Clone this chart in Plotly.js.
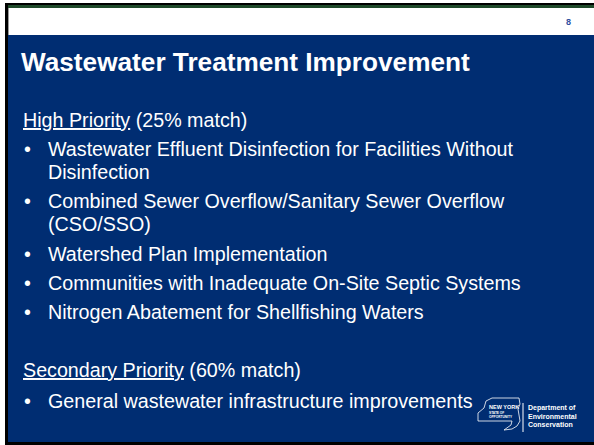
<!DOCTYPE html>
<html>
<head>
<meta charset="utf-8">
<script src="https://cdn.plot.ly/plotly-3.0.1.min.js"></script>
<style>
  html, body { margin: 0; padding: 0; background: #ffffff; }
  #plot { width: 594px; height: 445px; }
</style>
</head>
<body>
<div id="plot"></div>
<script>
// slide text
const pageNumber = '8';
const slideTitle = 'Wastewater Treatment Improvement';
const highHeading = 'High Priority';
const highNote = '(25% match)';
const highItems = [
    'Wastewater Effluent Disinfection for Facilities Without<br>Disinfection',
    'Combined Sewer Overflow/Sanitary Sewer Overflow<br>(CSO/SSO)',
    'Watershed Plan Implementation',
    'Communities with Inadequate On-Site Septic Systems',
    'Nitrogen Abatement for Shellfishing Waters'
];
const secondHeading = 'Secondary Priority';
const secondNote = '(60% match)';
const secondItems = [
    'General wastewater infrastructure improvements'
];
const logoLeft = ['NEW YORK', 'STATE OF', 'OPPORTUNITY'];
const logoRight = ['Department of', 'Environmental', 'Conservation'];

const navy = '#002d72';
const font = 'Liberation Sans, Arial, sans-serif';
const bodySize = 19.7;

// layout positions (px, y downward): first line of each bullet
const highItemY = [149, 201, 254, 283, 312];
const secondItemY = [401];
const lineGap = 23;

const annotations = [];
function txt(x, y, text, size, opts) {
    annotations.push(Object.assign({
        x: x, y: y, xref: 'x', yref: 'y', text: text, showarrow: false,
        xanchor: 'left', yanchor: 'middle', align: 'left',
        font: { family: font, size: size, color: '#ffffff' }
    }, opts || {}));
}

function bullet(y0, t) {
    txt(22, y0, '•', bodySize);
    t.split('<br>').forEach(function(line, k) {
        txt(46, y0 + k * lineGap, line, bodySize);
    });
}

txt(568, 22, '<b>' + pageNumber + '</b>', 9, { xanchor: 'center', font: { family: font, size: 9, color: '#2f4f9f' } });
txt(19, 62, '<b>' + slideTitle + '</b>', 26.2);
txt(21, 120, '<u>' + highHeading + '</u> ' + highNote, bodySize);
highItems.forEach(function(t, i) { bullet(highItemY[i], t); });
txt(21, 370, '<u>' + secondHeading + '</u> ' + secondNote, bodySize);
secondItems.forEach(function(t, i) { bullet(secondItemY[i], t); });

// logo text
logoLeft.forEach(function(t, i) {
    txt(487, [407, 412.5, 416.5][i], '<b>' + t + '</b>', i === 0 ? 5.5 : 3.2);
});
logoRight.forEach(function(t, i) {
    txt(526, 408 + i * 8, '<b>' + t + '</b>', 7);
});

const shapes = [
    { type: 'rect', x0: 8, x1: 594, y0: 35, y1: 442, fillcolor: navy, line: { width: 0 }, layer: 'below' },
    { type: 'rect', x0: 5, x1: 594, y0: 3, y1: 5, fillcolor: '#000000', line: { width: 0 } },
    { type: 'rect', x0: 8, x1: 594, y0: 5, y1: 8, fillcolor: '#1f4a2a', line: { width: 0 } },
    { type: 'rect', x0: 5, x1: 8, y0: 3, y1: 445, fillcolor: '#000000', line: { width: 0 } },
    { type: 'rect', x0: 8, x1: 9, y0: 8, y1: 35, fillcolor: '#9a9a9a', line: { width: 0 } },
    { type: 'rect', x0: 5, x1: 594, y0: 442, y1: 445, fillcolor: '#000000', line: { width: 0 } },
    // logo divider
    { type: 'line', x0: 523, x1: 523, y0: 403, y1: 432, line: { color: '#ffffff', width: 1 } },
    // rough state outline
    { type: 'path', path: 'M 478 413 L 484 408 L 486 401 L 492 398 L 519 398 L 520 404 L 518 409 L 520 421 L 517 426 L 512 429 L 504 430 L 511 425 L 512 421 L 478 421 Z',
      line: { color: '#ffffff', width: 0.8 }, fillcolor: 'rgba(0,0,0,0)' }
];

const layout = {
    width: 594,
    height: 445,
    margin: { l: 0, r: 0, t: 0, b: 0 },
    paper_bgcolor: '#ffffff',
    plot_bgcolor: '#ffffff',
    showlegend: false,
    xaxis: { range: [0, 594], visible: false, fixedrange: true },
    yaxis: { range: [445, 0], visible: false, fixedrange: true },
    shapes: shapes,
    annotations: annotations
};

Plotly.newPlot('plot', [], layout, { displayModeBar: false, staticPlot: true });
</script>
</body>
</html>
